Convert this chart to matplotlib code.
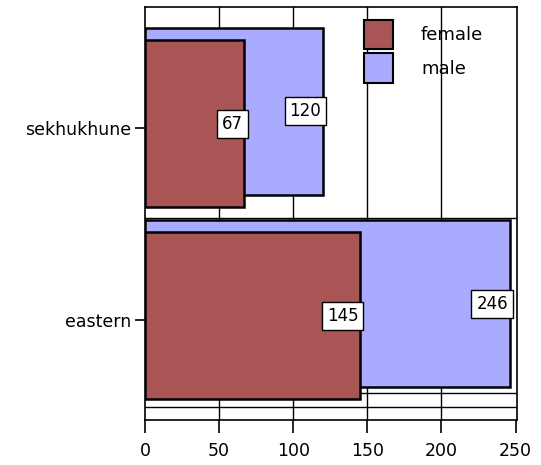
import matplotlib
matplotlib.use("Agg")
import matplotlib.pyplot as plt
from matplotlib.patches import Patch

categories = ["sekhukhune", "eastern"]
female = [67, 145]
male = [120, 246]
series_names = ["female", "male"]
x_ticks = [0, 50, 100, 150, 200, 250]

FEMALE_COLOR = "#aa5555"
MALE_COLOR = "#aaaaff"

fig = plt.figure(figsize=(5.41, 4.65), dpi=100)
ax = fig.add_axes([145 / 541, 1 - 420 / 465, 372 / 541, 413 / 465])

pos = list(range(len(categories)))
bar_h = 0.87
ax.barh([p - 0.086 for p in pos], male, height=bar_h, color=MALE_COLOR,
        edgecolor="black", linewidth=1.8, zorder=3)
ax.barh([p - 0.023 for p in pos], female, height=bar_h, color=FEMALE_COLOR,
        edgecolor="black", linewidth=1.8, zorder=4)

# value labels at the bar ends
box = dict(boxstyle="square,pad=0.3", facecolor="white", edgecolor="black", linewidth=1)
for p, v in zip(pos, male):
    ax.text(v - 1, p - 0.086, str(v), ha="right", va="center", fontsize=12,
            bbox=box, zorder=6)
for p, v in zip(pos, female):
    ax.text(v - 1, p - 0.023, str(v), ha="right", va="center", fontsize=12,
            bbox=box, zorder=6)

ax.set_xlim(0, 251)
ax.set_ylim(1.52, -0.63)
ax.set_xticks(x_ticks)
ax.set_xticklabels([str(t) for t in x_ticks], fontsize=12.5)
ax.set_yticks(pos)
ax.set_yticklabels(categories, fontsize=12.5)
ax.tick_params(axis="x", length=9, width=1.2, pad=7)
ax.tick_params(axis="y", length=7, width=1.2, pad=3)

# grid lines
for t in x_ticks[1:-1]:
    ax.axvline(t, color="black", linewidth=1, zorder=1)
for yl in [0.47, 1.38, 1.45]:
    ax.axhline(yl, color="black", linewidth=1, zorder=1)
for s in ax.spines.values():
    s.set_linewidth(1.2)

handles = [Patch(facecolor=FEMALE_COLOR, edgecolor="black", linewidth=1.5),
           Patch(facecolor=MALE_COLOR, edgecolor="black", linewidth=1.5)]
ax.legend(handles, series_names, loc="upper left", bbox_to_anchor=(0.589, 0.969),
          frameon=False, fontsize=13, borderpad=0, borderaxespad=0,
          handlelength=1.6, handleheight=2.15, labelspacing=0.2, handletextpad=1.55)

fig.savefig("out.png", dpi=100)
